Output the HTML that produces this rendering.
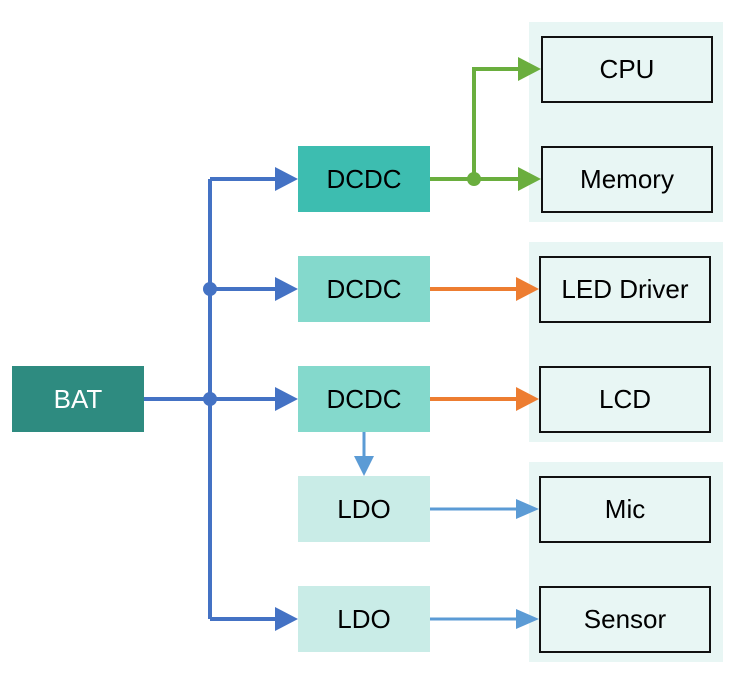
<!DOCTYPE html>
<html><head><style>body{margin:0;background:#fff}</style></head><body>
<svg width="743" height="683" viewBox="0 0 743 683" xmlns="http://www.w3.org/2000/svg" font-family="Liberation Sans, sans-serif">
<defs>
<marker id="ab" markerWidth="8" markerHeight="8" refX="7" refY="4" orient="auto" markerUnits="userSpaceOnUse"><path d="M0,0 L8,4 L0,8z" fill="#4472C4"/></marker>
</defs>
<g fill="#E8F6F4">
<rect x="529" y="22" width="194" height="200"/>
<rect x="529" y="242" width="194" height="200"/>
<rect x="529" y="462" width="194" height="200"/>
</g>
<g font-size="26" text-anchor="middle" dominant-baseline="central">
<rect x="12" y="366" width="132" height="66" fill="#2E8B80"/><text x="78" y="399" fill="#fff">BAT</text>
<rect x="298" y="146" width="132" height="66" fill="#3DBDB0"/><text x="364" y="179">DCDC</text>
<rect x="298" y="256" width="132" height="66" fill="#84D9CC"/><text x="364" y="289">DCDC</text>
<rect x="298" y="366" width="132" height="66" fill="#84D9CC"/><text x="364" y="399">DCDC</text>
<rect x="298" y="476" width="132" height="66" fill="#C9ECE7"/><text x="364" y="509">LDO</text>
<rect x="298" y="586" width="132" height="66" fill="#C9ECE7"/><text x="364" y="619">LDO</text>
<g fill="none" stroke="#111" stroke-width="2">
<rect x="542" y="37" width="170" height="65"/><rect x="542" y="147" width="170" height="65"/>
<rect x="540" y="257" width="170" height="65"/><rect x="540" y="367" width="170" height="65"/>
<rect x="540" y="477" width="170" height="65"/><rect x="540" y="587" width="170" height="65"/>
</g>
<text x="627" y="69">CPU</text><text x="627" y="179">Memory</text>
<text x="625" y="289">LED Driver</text><text x="625" y="399">LCD</text>
<text x="625" y="509">Mic</text><text x="625" y="619">Sensor</text>
</g>
<g stroke="#4472C4" stroke-width="4" fill="none">
<path d="M144,399 H280 M210,179 V619 M210,179 H280 M210,289 H280 M210,619 H280"/>
</g>
<g fill="#4472C4">
<circle cx="210" cy="289" r="7"/><circle cx="210" cy="399" r="7"/>
<path d="M275,167 L298,179 L275,191z"/><path d="M275,277 L298,289 L275,301z"/>
<path d="M275,387 L298,399 L275,411z"/><path d="M275,607 L298,619 L275,631z"/>
</g>
<g stroke="#6AAE3E" stroke-width="4" fill="none"><path d="M430,179 H525 M474,179 V69 H525"/></g>
<g fill="#6AAE3E"><circle cx="474" cy="179" r="7"/><path d="M518,57 L541,69 L518,81z"/><path d="M518,167 L541,179 L518,191z"/></g>
<g stroke="#ED7D31" stroke-width="4"><path d="M430,289 H522 M430,399 H522"/></g>
<g fill="#ED7D31"><path d="M516,277 L539,289 L516,301z"/><path d="M516,387 L539,399 L516,411z"/></g>
<g stroke="#5B9BD5" stroke-width="3"><path d="M430,509 H522 M430,619 H522 M364,432 V460"/></g>
<g fill="#5B9BD5"><path d="M516,499 L539,509 L516,519z"/><path d="M516,609 L539,619 L516,629z"/><path d="M354,456 L364,476 L374,456z"/></g>
</svg>
</body></html>
